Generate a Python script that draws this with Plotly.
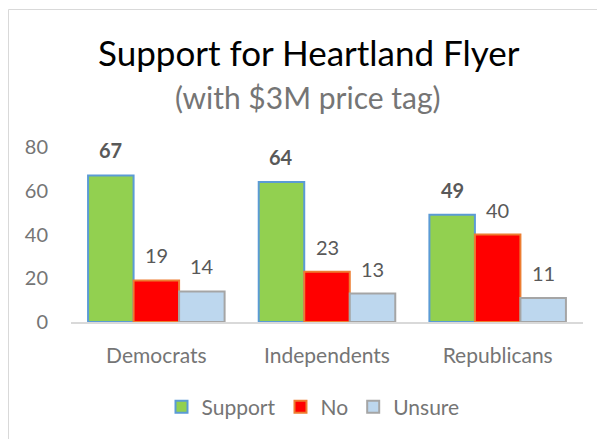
import plotly.graph_objects as go

categories = ["Democrats", "Independents", "Republicans"]
series_names = ["Support", "No", "Unsure"]
support = [67, 64, 49]
no = [19, 23, 40]
unsure = [14, 13, 11]
y_ticks = [0, 20, 40, 60, 80]

W, H = 605, 439
OFF = 8  # default page body margin
# target pixel positions of the plot area
X0, X1, Y0, Y1 = 71, 583, 147, 322
L, T = X0 - OFF, Y0 - OFF
R = W - (X1 - OFF)
B = H - (Y1 - OFF)
PW, PH = X1 - X0, Y1 - Y0

def px(x):
    return (x - X0) / PW

def py(y):
    return (Y1 - y) / PH

FONT = "Lato"
fills = ["#92D050", "#FF0000", "#BDD7EE"]
lines = ["#5B9BD5", "#ED7D31", "#A5A5A5"]
values = [support, no, unsure]

fig = go.Figure()
for name, vals, fc, lc in zip(series_names, values, fills, lines):
    fig.add_trace(go.Bar(
        x=categories, y=vals, name=name,
        marker=dict(color=fc, line=dict(color=lc, width=2)),
        hoverinfo="skip",
    ))

# data labels
n = len(series_names)
bargap = 0.2
group_px = PW / len(categories) * (1 - bargap)
bar_px = group_px / n
for si, vals in enumerate(values):
    off = (si - (n - 1) / 2) * bar_px
    for ci, v in enumerate(vals):
        fig.add_annotation(
            x=categories[ci], y=v, xref="x", yref="y",
            text=f"<b>{v}</b>" if si == 0 else str(v),
            showarrow=False, xshift=off, yshift=25, yanchor="middle",
            font=dict(family=FONT, size=20, color="#595959"),
        )

fig.add_annotation(x=px(309), y=py(52), xref="paper", yref="paper",
                   text="Support for Heartland Flyer", showarrow=False,
                   xanchor="center", yanchor="middle",
                   font=dict(family=FONT, size=35, color="#000000"))
fig.add_annotation(x=px(308), y=py(97), xref="paper", yref="paper",
                   text="(with $3M price tag)", showarrow=False,
                   xanchor="center", yanchor="middle",
                   font=dict(family=FONT, size=30, color="#757575"))

# chart border
fig.add_shape(type="rect", xref="paper", yref="paper",
              x0=px(8.5), x1=px(W + 30), y0=py(9.5), y1=py(H + 30),
              line=dict(color="#D9D9D9", width=1), fillcolor="rgba(0,0,0,0)")

fig.update_layout(
    width=W, height=H,
    margin=dict(l=L, r=R, t=T, b=B, pad=0),
    paper_bgcolor="white", plot_bgcolor="white",
    barmode="group", bargap=bargap, bargroupgap=0,
    showlegend=True,
    legend=dict(orientation="h", x=px(313), y=py(407), xanchor="center",
                yanchor="middle", font=dict(family=FONT, size=21, color="#757575"),
                itemwidth=30, tracegroupgap=0, bgcolor="rgba(0,0,0,0)"),
    font=dict(family=FONT),
)
fig.update_yaxes(range=[0, 80], tickvals=y_ticks, showgrid=False, zeroline=False,
                 showline=False, ticks="", ticklabelstandoff=22,
                 tickfont=dict(family=FONT, size=20, color="#757575"))
fig.update_xaxes(showline=True, linecolor="#D9D9D9", linewidth=2, ticks="",
                 ticklabelstandoff=14, showgrid=False,
                 tickfont=dict(family=FONT, size=21, color="#757575"))

fig.write_html("out.html")
